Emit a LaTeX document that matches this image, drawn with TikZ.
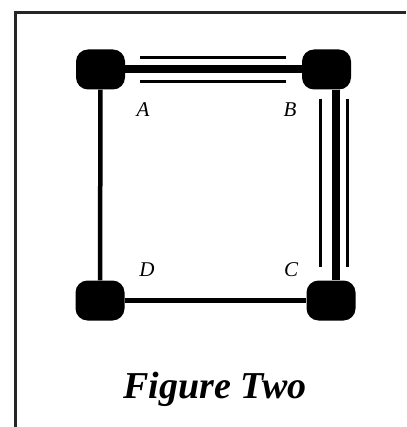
\documentclass[tikz,border=0pt]{standalone}
\usepackage{fontspec}
\setmainfont{Liberation Serif}
\usepackage{tikz}
\usetikzlibrary{positioning, calc}

\begin{document}
\begin{tikzpicture}[
    x=1pt, y=-1pt,
    corner/.style={fill=black, draw=none, rounded corners=12pt, inner sep=0pt,
                   minimum width=49pt, minimum height=40pt},
    heavy/.style={line width=8pt, black},
    light/.style={line width=4.5pt, black},
    rail/.style={line width=3pt, black},
    letter/.style={font=\fontsize{21}{24}\selectfont\itshape, inner sep=0pt},
    caption/.style={font=\fontsize{38}{44}\selectfont\bfseries\itshape, inner sep=0pt, anchor=base}
]

% 画布大小（与参考图一致）
\useasboundingbox (0,0) rectangle (406,427);

% 参数：平行细线的偏移
\def\railgap{12pt}

% 外框（只有上边和左边可见）
\draw[line width=3pt, black!85] (15,427) -- (15,13) -- (406,13);

% 四个角点
\node[corner] (A) at (100.5,69.5) {};
\node[corner] (B) at (326.5,69.5) {};
\node[corner] (C) at (331,300.5)  {};
\node[corner] (D) at (100,300.5)  {};

% 连线
\draw[heavy] (A) -- (B);
\draw[heavy] ([xshift=9.5pt]B.south) -- ([xshift=5pt]C.north);
\draw[light] (A) -- (D);
\draw[light] (D) -- (C);

% A--B 两侧的平行细线
\draw[rail] ([xshift=15pt, yshift=\railgap]A.east)  -- ([xshift=-16pt, yshift=\railgap]B.west);
\draw[rail] ([xshift=15pt, yshift=-\railgap]A.east) -- ([xshift=-16pt, yshift=-\railgap]B.west);

% B--C 两侧的平行细线
\draw[rail] ([xshift=-6pt, yshift=-9pt]B.south) -- ([xshift=-10.5pt, yshift=13.5pt]C.north);
\draw[rail] ([xshift=21pt, yshift=-9pt]B.south) -- ([xshift=16.5pt, yshift=13.5pt]C.north);

% 角点标号
\node[letter] (labA) at (143,110) {A};
\node[letter] (labB) at (290,110) {B};
\node[letter] (labC) at (291,270) {C};
\node[letter] (labD) at (147,270) {D};

% 图题
\node[caption] (title) at (215,398) {Figure Two};

\end{tikzpicture}
\end{document}
